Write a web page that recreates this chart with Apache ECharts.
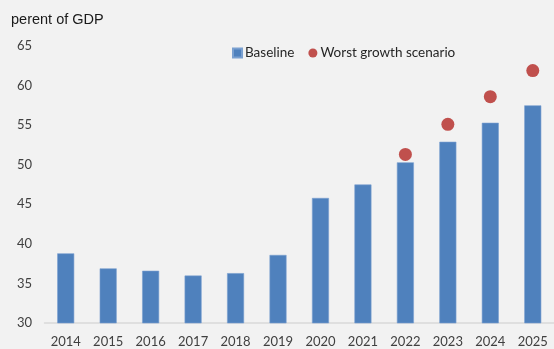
<!DOCTYPE html>
<html>
<head>
<meta charset="utf-8">
<script src="https://cdn.jsdelivr.net/npm/echarts@6/dist/echarts.min.js"></script>
<style>
  html, body { margin: 0; padding: 0; background: #f2f2f2; }
  #chart { width: 554px; height: 349px; }
</style>
</head>
<body>
<div id="chart"></div>
<script>
// Public debt, percent of GDP
const years = ['2014', '2015', '2016', '2017', '2018', '2019', '2020', '2021', '2022', '2023', '2024', '2025'];
const baseline = [38.8, 36.9, 36.6, 36.0, 36.3, 38.6, 45.8, 47.5, 50.3, 52.9, 55.3, 57.5];
const worstGrowth = [null, null, null, null, null, null, null, null, 51.3, 55.1, 58.6, 61.9];
const yTicks = { min: 30, max: 65, step: 5 };

const labelFont = 'Lato, "Open Sans", sans-serif';
const chart = echarts.init(document.getElementById('chart'), null, { renderer: 'canvas' });

chart.setOption({
  backgroundColor: '#f2f2f2',
  animation: false,
  title: {
    text: 'perent of GDP',
    left: 11,
    top: 12,
    padding: 0,
    textStyle: { fontFamily: '"Liberation Sans", Arial, sans-serif', fontSize: 14.5, fontWeight: 'normal', color: '#1a1a1a' }
  },
  legend: {
    left: 227,
    top: 41,
    itemGap: 14,
    itemWidth: 9,
    itemHeight: 9,
    textStyle: { fontFamily: labelFont, fontSize: 13.5, color: '#262626', padding: [0, 0, 0, -2] },
    data: [
      { name: 'Baseline', icon: 'rect' },
      { name: 'Worst growth scenario', icon: 'circle', itemStyle: { color: '#c0504d' } }
    ]
  },
  grid: { left: 44.5, right: -7.5, top: 46, bottom: 26 },
  xAxis: {
    type: 'category',
    data: years,
    axisLine: { lineStyle: { color: '#d9d9d9', width: 1.5 } },
    axisTick: { show: false },
    axisLabel: { fontFamily: labelFont, fontSize: 13, color: '#404040', margin: 12 }
  },
  yAxis: {
    type: 'value',
    min: yTicks.min,
    max: yTicks.max,
    interval: yTicks.step,
    splitLine: { show: false },
    axisLine: { show: false },
    axisTick: { show: false },
    axisLabel: { fontFamily: labelFont, fontSize: 13, color: '#404040', margin: 12.5 }
  },
  series: [
    {
      name: 'Baseline',
      type: 'bar',
      data: baseline,
      barWidth: 17,
      itemStyle: { color: '#4f81bd', borderColor: '#7aa0d0', borderWidth: 0.6 }
    },
    {
      name: 'Worst growth scenario',
      type: 'scatter',
      data: worstGrowth,
      symbol: 'circle',
      symbolSize: 13,
      itemStyle: { color: '#c0504d', opacity: 1 }
    }
  ]
});
</script>
</body>
</html>
